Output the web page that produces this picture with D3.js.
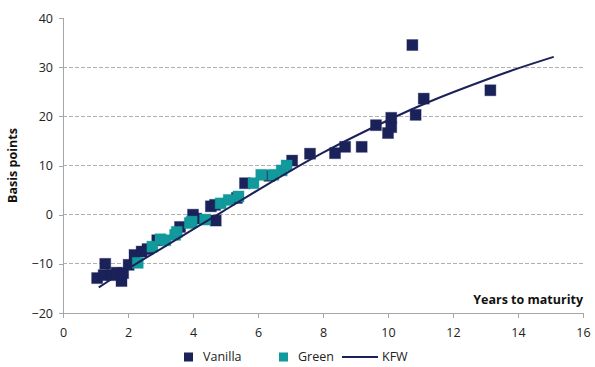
<!DOCTYPE html>
<html>
<head>
<meta charset="utf-8">
<script src="https://cdn.jsdelivr.net/npm/d3@7"></script>
<style>
  html, body { margin: 0; padding: 0; background: #fff; }
  svg { display: block; font-family: "Open Sans", "Noto Sans", sans-serif; }
</style>
</head>
<body>
<svg id="chart" width="595" height="367"></svg>
<script>
// Spread vs. years to maturity: vanilla and green bonds, with the KFW curve
const vanillaYears  = [1.05, 1.25, 1.3, 1.5, 1.65, 1.8, 1.85, 2.02, 2.2, 2.42, 2.6, 2.9, 3.6, 4.0, 4.1, 4.55, 4.68, 4.7, 5.35, 5.6, 6.35, 7.05, 7.6, 8.37, 8.68, 9.19, 9.63, 10.0, 10.1, 10.1, 10.85, 11.1, 10.75, 13.15];
const vanillaSpread = [-12.9, -12.3, -10.0, -12.3, -11.8, -13.5, -11.9, -10.2, -8.2, -7.5, -7.0, -5.2, -2.5, 0.0, -0.8, 1.7, 2.0, -1.2, 3.4, 6.4, 7.9, 11.0, 12.4, 12.5, 13.8, 13.8, 18.2, 16.6, 17.8, 19.7, 20.3, 23.6, 34.5, 25.3];

const greenYears  = [2.3, 2.75, 3.0, 3.15, 3.45, 3.5, 3.9, 3.96, 4.37, 4.85, 5.1, 5.4, 5.86, 6.1, 6.47, 6.73, 6.88];
const greenSpread = [-9.8, -6.5, -5.0, -5.2, -4.1, -3.5, -1.7, -1.4, -1.0, 2.3, 3.0, 3.7, 6.4, 8.1, 8.1, 9.0, 10.0];

const kfwYears  = [1.1, 2, 3, 4, 5, 6, 7, 8, 9, 10, 11, 12, 13, 14, 15.1];
const kfwSpread = [-14.8, -11.0, -7.0, -3.0, 1.0, 5.0, 8.9, 12.6, 16.0, 19.2, 22.2, 24.9, 27.4, 29.75, 32.1];

const xTicks = [0, 2, 4, 6, 8, 10, 12, 14, 16];
const yTicks = [-20, -10, 0, 10, 20, 30, 40];
const gridTicks = [-10, 0, 10, 20, 30];

const seriesNames = ["Vanilla", "Green", "KFW"];

const navy = "#1b2159";
const teal = "#11999b";
const axisGrey = "#a6a6a6";

const svg = d3.select("#chart");
const plot = { left: 63, right: 583, top: 18, bottom: 313 };

const x = d3.scaleLinear().domain([0, 16]).range([plot.left, plot.right]);
const y = d3.scaleLinear().domain([-20, 40]).range([plot.bottom, plot.top]);

// dashed horizontal gridlines
svg.append("g")
  .selectAll("line")
  .data(gridTicks)
  .join("line")
  .attr("x1", plot.left).attr("x2", plot.right)
  .attr("y1", d => y(d)).attr("y2", d => y(d))
  .attr("stroke", "#b0b0b0")
  .attr("stroke-width", 1)
  .attr("stroke-dasharray", "3.5,2.5")
  .attr("shape-rendering", "crispEdges");

// y axis
const yAxis = svg.append("g")
  .attr("transform", `translate(${plot.left},0)`)
  .call(d3.axisLeft(y).tickValues(yTicks).tickSize(4).tickPadding(6).tickFormat(d3.format("d")));
// x axis
const xAxis = svg.append("g")
  .attr("transform", `translate(0,${plot.bottom})`)
  .call(d3.axisBottom(x).tickValues(xTicks).tickSize(5).tickPadding(10).tickFormat(d3.format("d")));

[yAxis, xAxis].forEach(g => {
  g.select(".domain").attr("stroke", axisGrey).attr("shape-rendering", "crispEdges");
  g.selectAll(".tick line").attr("stroke", axisGrey).attr("shape-rendering", "crispEdges");
  g.selectAll(".tick text")
    .attr("fill", "#222")
    .style("font-size", "12.5px")
    .style("font-family", "'Open Sans', 'Noto Sans', sans-serif");
});
yAxis.select(".domain").attr("d", `M0.5,${plot.top}V${plot.bottom}`);
xAxis.select(".domain").attr("d", `M${plot.left},0.5H${plot.right}`);

// axis titles
svg.append("text")
  .attr("transform", `translate(17,${(plot.top + plot.bottom) / 2}) rotate(-90)`)
  .attr("text-anchor", "middle")
  .attr("font-weight", 700)
  .attr("font-size", "12.5px")
  .attr("fill", "#111")
  .text("Basis points");

svg.append("text")
  .attr("x", plot.right)
  .attr("y", 304)
  .attr("text-anchor", "end")
  .attr("font-weight", 700)
  .attr("font-size", "12.5px")
  .attr("fill", "#111")
  .text("Years to maturity");

// markers
const markerSize = 11;
const vanilla = vanillaYears.map((v, i) => ({ yr: v, bp: vanillaSpread[i] }));
const green = greenYears.map((v, i) => ({ yr: v, bp: greenSpread[i] }));
const kfw = kfwYears.map((v, i) => ({ yr: v, bp: kfwSpread[i] }));

function squares(data, color, cls) {
  svg.append("g").attr("class", cls)
    .selectAll("rect")
    .data(data)
    .join("rect")
    .attr("x", d => x(d.yr) - markerSize / 2)
    .attr("y", d => y(d.bp) - markerSize / 2)
    .attr("width", markerSize)
    .attr("height", markerSize)
    .attr("fill", color)
    .attr("stroke", color)
    .attr("stroke-opacity", 0.35)
    .attr("stroke-width", 1);
}
squares(vanilla, navy, "vanilla");
squares(green, teal, "green");

// KFW curve
const line = d3.line()
  .x(d => x(d.yr))
  .y(d => y(d.bp))
  .curve(d3.curveNatural);
svg.append("path")
  .datum(kfw)
  .attr("d", line)
  .attr("fill", "none")
  .attr("stroke", navy)
  .attr("stroke-width", 2);

// legend
const legendY = 357;
const legend = svg.append("g").attr("font-size", "12.5px").attr("fill", "#222");
const items = [
  { name: seriesNames[0], type: "square", color: navy, x: 184 },
  { name: seriesNames[1], type: "square", color: teal, x: 279 },
  { name: seriesNames[2], type: "line", color: navy, x: 342 }
];
items.forEach(it => {
  let textX;
  if (it.type === "square") {
    legend.append("rect")
      .attr("x", it.x).attr("y", legendY - 4.5)
      .attr("width", 9).attr("height", 9)
      .attr("fill", it.color);
    textX = it.x + 19;
  } else {
    legend.append("line")
      .attr("x1", it.x).attr("x2", it.x + 36)
      .attr("y1", legendY).attr("y2", legendY)
      .attr("stroke", it.color).attr("stroke-width", 2);
    textX = it.x + 40;
  }
  legend.append("text")
    .attr("x", textX).attr("y", legendY)
    .attr("dy", "0.35em")
    .text(it.name);
});
</script>
</body>
</html>
